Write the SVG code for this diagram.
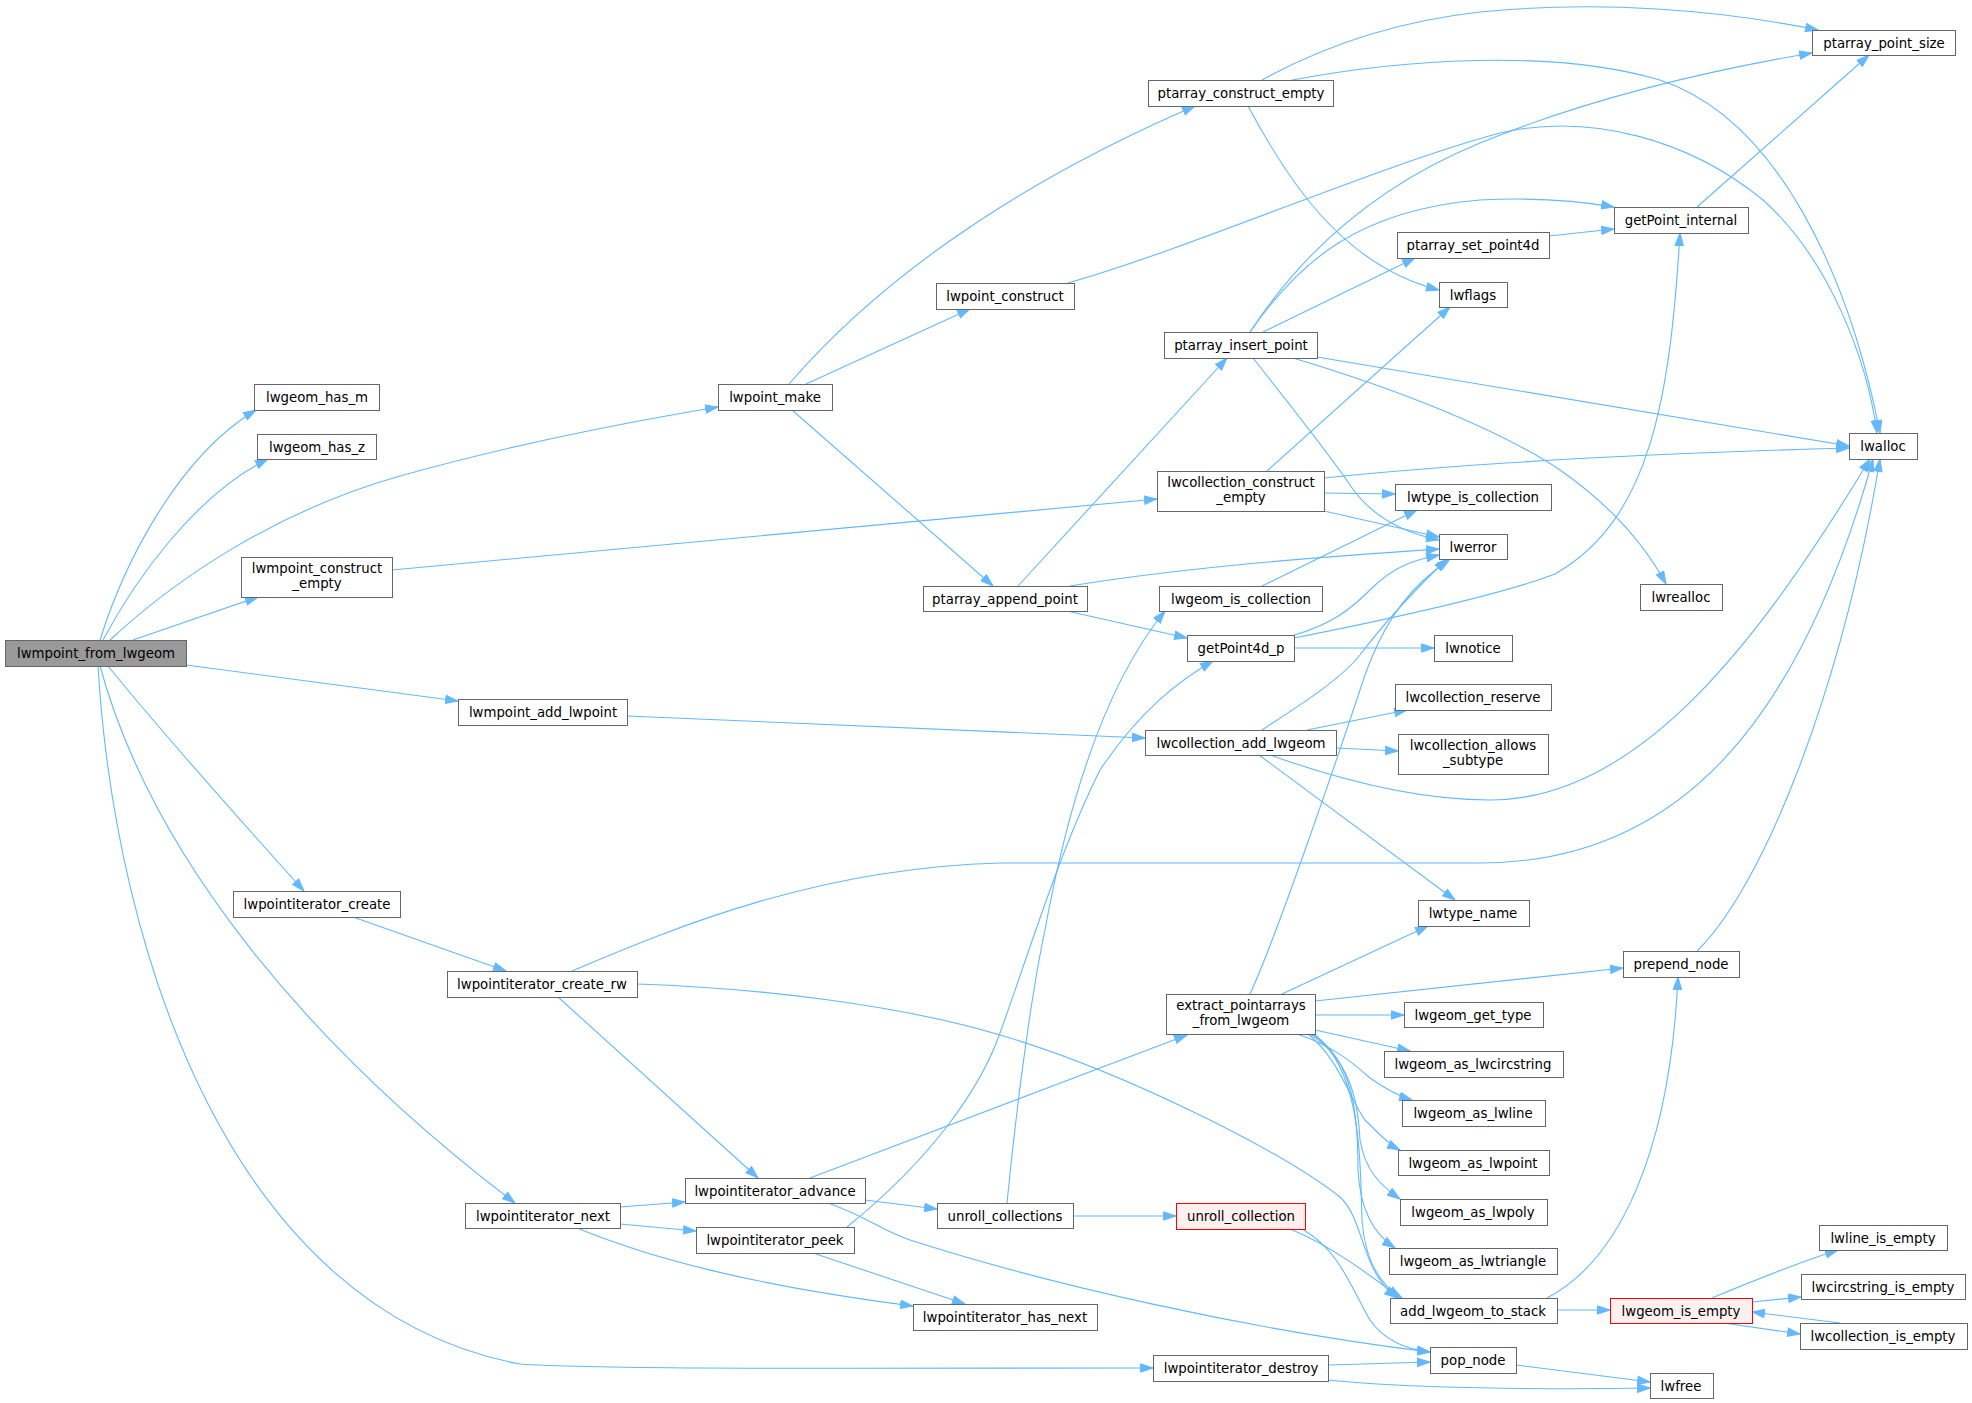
<svg xmlns="http://www.w3.org/2000/svg" width="1972" height="1403" viewBox="0 0 1972 1403">
<defs>
<style>
.n rect{fill:#fff;stroke:#666;stroke-width:1}
.n.root rect{fill:#999}
.n.red rect{fill:#fff0f0;stroke:#f00}
.n text{font-family:"DejaVu Sans",sans-serif;font-size:13.3px;fill:#000;text-anchor:middle}
.e path{fill:none;stroke:#63b8ff;stroke-width:1.1;marker-end:url(#a)}
</style>
<marker id="a" markerWidth="14" markerHeight="10" refX="13" refY="5" orient="auto" markerUnits="userSpaceOnUse"><path d="M0.5,0.8 L13,5 L0.5,9.2 z" fill="#63b8ff" stroke="#63b8ff"/></marker>
</defs>
<rect width="1972" height="1403" fill="#fff"/>
<g id="edges" class="e">
<path d="M100,640 C125,560 180,455 256,410"/>
<path d="M103,640 C135,580 195,495 268,459"/>
<path d="M110,640 C180,575 280,510 400,476 C500,448 610,425 718,407"/>
<path d="M133,640 L258,597"/>
<path d="M186,665 L458,701"/>
<path d="M108,666 C160,730 240,820 304,891"/>
<path d="M100,666 C150,850 300,1040 515,1203"/>
<path d="M98,666 C115,950 230,1310 520,1364 C600,1370 900,1368 1153,1368"/>
<path d="M789,384 C870,290 1000,190 1195,106"/>
<path d="M806,384 L970,309"/>
<path d="M792,410 L993,586"/>
<path d="M1068,283 C1200,245 1380,165 1500,133 C1590,112 1690,140 1763,200 C1830,260 1867,360 1877,433"/>
<path d="M1262,80 C1320,48 1390,22 1480,12 C1600,0 1720,10 1818,30"/>
<path d="M1248,106 C1285,175 1340,265 1439,290"/>
<path d="M1292,80 C1400,60 1550,48 1660,80 C1780,120 1850,280 1880,433"/>
<path d="M1250,332 C1310,240 1390,180 1480,143 C1580,102 1700,72 1812,53"/>
<path d="M1250,332 C1300,260 1360,210 1480,200 C1540,197 1580,201 1614,207"/>
<path d="M1263,332 L1415,258"/>
<path d="M1549,236 L1614,229"/>
<path d="M1697,207 L1869,55"/>
<path d="M1317,357 L1849,446"/>
<path d="M1293,358 C1400,390 1500,430 1560,470 C1610,505 1645,545 1666,584"/>
<path d="M1253,358 C1290,405 1330,455 1350,485 C1370,515 1400,532 1439,540"/>
<path d="M1018,586 L1227,358"/>
<path d="M1070,586 C1200,565 1350,555 1439,549"/>
<path d="M1067,611 L1187,638"/>
<path d="M1294,635 C1330,625 1350,610 1370,590 C1395,565 1415,560 1439,555"/>
<path d="M1294,638 C1400,617 1500,595 1555,574 C1650,520 1670,400 1680,233"/>
<path d="M1294,648 L1434,648"/>
<path d="M1267,471 L1450,307"/>
<path d="M1324,478 C1500,460 1700,452 1849,448"/>
<path d="M1324,493 L1395,494"/>
<path d="M1324,511 L1439,537"/>
<path d="M1262,586 L1417,510"/>
<path d="M392,570 L1157,499"/>
<path d="M627,716 L1145,738"/>
<path d="M1307,730 L1407,710"/>
<path d="M1336,748 L1398,751"/>
<path d="M1259,755 L1455,900"/>
<path d="M1270,755 C1340,780 1420,800 1490,800 C1640,800 1760,640 1870,459"/>
<path d="M1262,730 C1300,705 1340,680 1360,655 C1390,615 1420,585 1447,559"/>
<path d="M353,917 L506,971"/>
<path d="M572,971 C680,925 820,868 1000,863 L1480,863 C1680,863 1800,720 1873,459"/>
<path d="M558,997 L758,1178"/>
<path d="M637,984 C760,988 900,1005 1000,1035 C1120,1070 1280,1150 1340,1197 C1365,1220 1360,1270 1397,1298"/>
<path d="M620,1207 L685,1202"/>
<path d="M620,1224 L696,1231"/>
<path d="M577,1228 C650,1258 750,1285 913,1306"/>
<path d="M813,1253 L965,1304"/>
<path d="M847,1227 C930,1160 980,1090 1000,1033 C1030,950 1060,850 1100,770 C1140,710 1180,680 1213,661"/>
<path d="M810,1178 L1187,1035"/>
<path d="M865,1200 L937,1209"/>
<path d="M828,1203 C870,1218 880,1230 910,1240 C1050,1285 1250,1330 1430,1352"/>
<path d="M1007,1203 C1015,1120 1030,1000 1045,930 C1065,820 1100,690 1165,611"/>
<path d="M1073,1216 L1176,1216"/>
<path d="M1290,1229 C1330,1245 1370,1275 1400,1298"/>
<path d="M1302,1229 C1340,1250 1352,1290 1370,1320 C1385,1342 1410,1350 1430,1352"/>
<path d="M1250,994 C1275,940 1330,780 1360,690 C1385,610 1420,580 1450,559"/>
<path d="M1282,994 L1428,926"/>
<path d="M1315,1001 L1623,968"/>
<path d="M1315,1015 L1404,1015"/>
<path d="M1315,1030 L1410,1051"/>
<path d="M1297,1034 C1330,1045 1350,1060 1370,1078 C1390,1092 1405,1098 1412,1100"/>
<path d="M1308,1034 C1340,1060 1350,1100 1365,1120 C1380,1135 1390,1145 1400,1150"/>
<path d="M1310,1034 C1350,1060 1358,1100 1360,1140 C1365,1170 1380,1185 1400,1199"/>
<path d="M1312,1034 C1355,1060 1358,1120 1358,1170 C1360,1210 1375,1235 1395,1248"/>
<path d="M1314,1034 C1360,1070 1360,1150 1362,1220 C1365,1260 1380,1285 1402,1298"/>
<path d="M1547,1298 C1620,1260 1670,1150 1678,977"/>
<path d="M1557,1310 L1610,1310"/>
<path d="M1712,1298 C1760,1278 1800,1262 1838,1250"/>
<path d="M1752,1302 L1801,1297"/>
<path d="M1724,1323 L1800,1334"/>
<path d="M1840,1323 L1752,1312"/>
<path d="M1697,951 C1760,890 1840,700 1880,459"/>
<path d="M1516,1365 L1650,1382"/>
<path d="M1328,1365 L1430,1362"/>
<path d="M1328,1380 C1400,1388 1550,1390 1650,1388"/>
</g>
<g id="n1" class="n root"><rect x="5.5" y="640.5" width="181" height="26"/><text x="96" y="658">lwmpoint_from_lwgeom</text></g>
<g id="n2" class="n"><rect x="254.5" y="384.5" width="125" height="26"/><text x="317" y="402">lwgeom_has_m</text></g>
<g id="n3" class="n"><rect x="257.5" y="434.5" width="119" height="25"/><text x="317" y="452">lwgeom_has_z</text></g>
<g id="n4" class="n"><rect x="718.5" y="384.5" width="114" height="26"/><text x="775" y="402">lwpoint_make</text></g>
<g id="n5" class="n"><rect x="241.5" y="557.5" width="151" height="40"/><text x="317" y="573">lwmpoint_construct</text><text x="317" y="588">_empty</text></g>
<g id="n6" class="n"><rect x="458.5" y="699.5" width="169" height="26"/><text x="543" y="717">lwmpoint_add_lwpoint</text></g>
<g id="n7" class="n"><rect x="233.5" y="891.5" width="167" height="26"/><text x="317" y="909">lwpointiterator_create</text></g>
<g id="n8" class="n"><rect x="465.5" y="1203.5" width="155" height="25"/><text x="543" y="1221">lwpointiterator_next</text></g>
<g id="n9" class="n"><rect x="1153.5" y="1355.5" width="175" height="26"/><text x="1241" y="1373">lwpointiterator_destroy</text></g>
<g id="n10" class="n"><rect x="1148.5" y="80.5" width="185" height="26"/><text x="1241" y="98">ptarray_construct_empty</text></g>
<g id="n11" class="n"><rect x="936.5" y="283.5" width="138" height="26"/><text x="1005" y="301">lwpoint_construct</text></g>
<g id="n12" class="n"><rect x="923.5" y="586.5" width="164" height="25"/><text x="1005" y="604">ptarray_append_point</text></g>
<g id="n13" class="n"><rect x="447.5" y="971.5" width="190" height="26"/><text x="542" y="989">lwpointiterator_create_rw</text></g>
<g id="n14" class="n"><rect x="685.5" y="1178.5" width="180" height="25"/><text x="775" y="1196">lwpointiterator_advance</text></g>
<g id="n15" class="n"><rect x="696.5" y="1227.5" width="158" height="26"/><text x="775" y="1245">lwpointiterator_peek</text></g>
<g id="n16" class="n"><rect x="913.5" y="1304.5" width="184" height="26"/><text x="1005" y="1322">lwpointiterator_has_next</text></g>
<g id="n17" class="n"><rect x="937.5" y="1203.5" width="136" height="25"/><text x="1005" y="1221">unroll_collections</text></g>
<g id="n18" class="n"><rect x="1164.5" y="332.5" width="153" height="26"/><text x="1241" y="350">ptarray_insert_point</text></g>
<g id="n19" class="n"><rect x="1157.5" y="471.5" width="167" height="40"/><text x="1241" y="487">lwcollection_construct</text><text x="1241" y="502">_empty</text></g>
<g id="n20" class="n"><rect x="1159.5" y="586.5" width="163" height="25"/><text x="1241" y="604">lwgeom_is_collection</text></g>
<g id="n21" class="n"><rect x="1187.5" y="635.5" width="107" height="26"/><text x="1241" y="653">getPoint4d_p</text></g>
<g id="n22" class="n"><rect x="1145.5" y="730.5" width="191" height="25"/><text x="1241" y="748">lwcollection_add_lwgeom</text></g>
<g id="n23" class="n"><rect x="1166.5" y="994.5" width="149" height="40"/><text x="1241" y="1010">extract_pointarrays</text><text x="1241" y="1025">_from_lwgeom</text></g>
<g id="n24" class="n red"><rect x="1176.5" y="1203.5" width="129" height="26"/><text x="1241" y="1221">unroll_collection</text></g>
<g id="n25" class="n"><rect x="1812.5" y="30.5" width="143" height="25"/><text x="1884" y="48">ptarray_point_size</text></g>
<g id="n26" class="n"><rect x="1614.5" y="207.5" width="134" height="26"/><text x="1681" y="225">getPoint_internal</text></g>
<g id="n27" class="n"><rect x="1397.5" y="232.5" width="152" height="26"/><text x="1473" y="250">ptarray_set_point4d</text></g>
<g id="n28" class="n"><rect x="1439.5" y="282.5" width="68" height="25"/><text x="1473" y="300">lwflags</text></g>
<g id="n29" class="n"><rect x="1849.5" y="433.5" width="68" height="26"/><text x="1883" y="451">lwalloc</text></g>
<g id="n30" class="n"><rect x="1395.5" y="484.5" width="156" height="26"/><text x="1473" y="502">lwtype_is_collection</text></g>
<g id="n31" class="n"><rect x="1439.5" y="534.5" width="68" height="25"/><text x="1473" y="552">lwerror</text></g>
<g id="n32" class="n"><rect x="1640.5" y="584.5" width="82" height="26"/><text x="1681" y="602">lwrealloc</text></g>
<g id="n33" class="n"><rect x="1434.5" y="635.5" width="78" height="26"/><text x="1473" y="653">lwnotice</text></g>
<g id="n34" class="n"><rect x="1395.5" y="684.5" width="156" height="26"/><text x="1473" y="702">lwcollection_reserve</text></g>
<g id="n35" class="n"><rect x="1398.5" y="734.5" width="150" height="40"/><text x="1473" y="750">lwcollection_allows</text><text x="1473" y="765">_subtype</text></g>
<g id="n36" class="n"><rect x="1418.5" y="900.5" width="111" height="26"/><text x="1473" y="918">lwtype_name</text></g>
<g id="n37" class="n"><rect x="1623.5" y="951.5" width="116" height="26"/><text x="1681" y="969">prepend_node</text></g>
<g id="n38" class="n"><rect x="1404.5" y="1002.5" width="139" height="25"/><text x="1473" y="1020">lwgeom_get_type</text></g>
<g id="n39" class="n"><rect x="1384.5" y="1051.5" width="179" height="26"/><text x="1473" y="1069">lwgeom_as_lwcircstring</text></g>
<g id="n40" class="n"><rect x="1402.5" y="1100.5" width="143" height="26"/><text x="1473" y="1118">lwgeom_as_lwline</text></g>
<g id="n41" class="n"><rect x="1398.5" y="1150.5" width="151" height="25"/><text x="1473" y="1168">lwgeom_as_lwpoint</text></g>
<g id="n42" class="n"><rect x="1400.5" y="1199.5" width="147" height="26"/><text x="1473" y="1217">lwgeom_as_lwpoly</text></g>
<g id="n43" class="n"><rect x="1389.5" y="1248.5" width="168" height="26"/><text x="1473" y="1266">lwgeom_as_lwtriangle</text></g>
<g id="n44" class="n"><rect x="1390.5" y="1298.5" width="167" height="25"/><text x="1473" y="1316">add_lwgeom_to_stack</text></g>
<g id="n45" class="n"><rect x="1430.5" y="1347.5" width="86" height="26"/><text x="1473" y="1365">pop_node</text></g>
<g id="n46" class="n"><rect x="1650.5" y="1373.5" width="63" height="25"/><text x="1681" y="1391">lwfree</text></g>
<g id="n47" class="n red"><rect x="1610.5" y="1298.5" width="142" height="25"/><text x="1681" y="1316">lwgeom_is_empty</text></g>
<g id="n48" class="n"><rect x="1819.5" y="1225.5" width="128" height="25"/><text x="1883" y="1243">lwline_is_empty</text></g>
<g id="n49" class="n"><rect x="1801.5" y="1274.5" width="164" height="25"/><text x="1883" y="1292">lwcircstring_is_empty</text></g>
<g id="n50" class="n"><rect x="1800.5" y="1323.5" width="167" height="26"/><text x="1883" y="1341">lwcollection_is_empty</text></g>
</svg>
